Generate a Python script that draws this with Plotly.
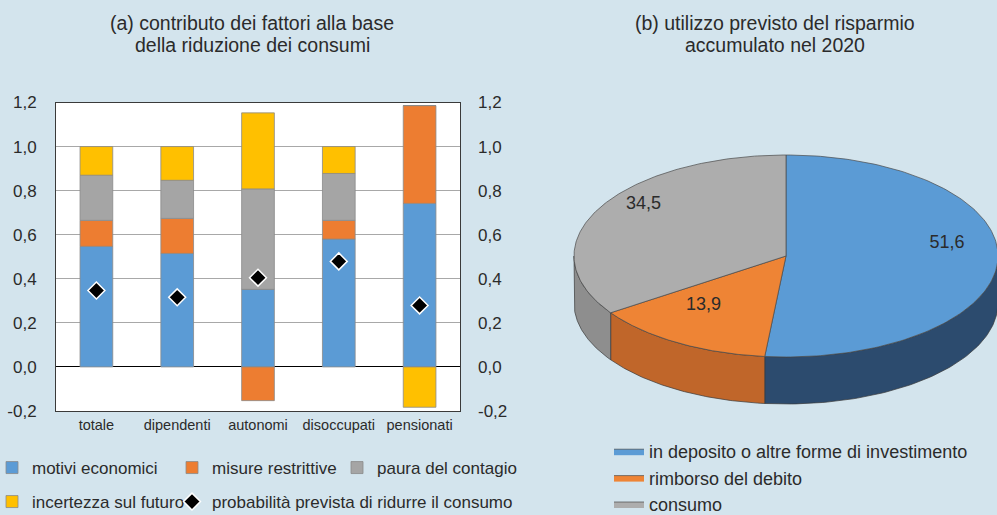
import numpy as np
import plotly.graph_objects as go

# ---------------- data ----------------
categories = ["totale", "dipendenti", "autonomi", "disoccupati", "pensionati"]
motivi_economici = [0.547, 0.515, 0.352, 0.580, 0.742]
misure_restrittive = [0.118, 0.159, -0.153, 0.085, 0.444]
paura_contagio = [0.205, 0.173, 0.456, 0.213, 0.0]
incertezza_futuro = [0.130, 0.153, 0.345, 0.122, -0.183]
prob_ridurre = [0.347, 0.316, 0.405, 0.479, 0.279]

pie_labels = ["in deposito o altre forme di investimento", "rimborso del debito", "consumo"]
pie_values = [51.6, 13.9, 34.5]

y_ticks = [-0.2, 0.0, 0.2, 0.4, 0.6, 0.8, 1.0, 1.2]
y_ticktext = [f"{v:.1f}".replace(".", ",") for v in y_ticks]

# ---------------- style ----------------
W, H = 997, 515
BG = "#d3e4ed"
FONT = "Liberation Sans, Arial, sans-serif"
TXT = "#2b2b2b"
C_BLUE, C_ORANGE, C_GRAY, C_YELLOW = "#5b9bd5", "#ed7d31", "#a5a5a5", "#ffc000"
PIE_TOP = ["#5b9bd5", "#ee8435", "#adadad"]
PIE_SIDE = ["#2c4b6e", "#c0662a", "#8e8e8e"]


def px_x(p):
    return p / W


def px_y(p):
    return (H - p) / H


fig = go.Figure()

# ---------------- (a) stacked bars ----------------
# each legend entry gets its own legend box so the entries sit on two rows
bar_series = [
    ("motivi economici", motivi_economici, C_BLUE, "legend"),
    ("misure restrittive", misure_restrittive, C_ORANGE, "legend5"),
    ("paura del contagio", paura_contagio, C_GRAY, "legend6"),
    ("incertezza sul futuro", incertezza_futuro, C_YELLOW, "legend2"),
]
for name, vals, col, lg in bar_series:
    fig.add_trace(go.Bar(
        x=categories, y=vals, name=name, marker_color=col,
        marker_line=dict(color="#8a8a8a", width=0.8),
        xaxis="x", yaxis="y", legend=lg,
    ))

fig.add_trace(go.Scatter(
    x=categories, y=prob_ridurre, mode="markers",
    name="probabilità prevista di ridurre il consumo",
    marker=dict(symbol="diamond", size=13, color="black",
                line=dict(color="white", width=1.5)),
    xaxis="x", yaxis="y", legend="legend4",
))

# invisible trace to carry the right-hand axis
fig.add_trace(go.Scatter(x=categories, y=prob_ridurre, mode="markers",
                         marker=dict(opacity=0), showlegend=False,
                         hoverinfo="skip", xaxis="x", yaxis="y2"))

# ---------------- (b) 3-D style pie ----------------
cx, cy, rx, ry, depth = 786.0, 256.0, 212.0, 101.0, 47.0

fracs = np.array(pie_values) / np.sum(pie_values)
bounds = np.concatenate([[0.0], np.cumsum(fracs) * 360.0])


def rim(theta_deg, dy=0.0):
    t = np.radians(theta_deg)
    return cx + rx * np.sin(t), cy - ry * np.cos(t) + dy


# side walls (front half only, 90..270 degrees clockwise from top)
for i in range(len(pie_values)):
    a0, a1 = max(bounds[i], 90.0), min(bounds[i + 1], 270.0)
    if a1 <= a0:
        continue
    th = np.linspace(a0, a1, 80)
    xt, yt = rim(th)
    xb, yb = rim(th[::-1], depth)
    fig.add_trace(go.Scatter(
        x=np.concatenate([xt, xb, xt[:1]]), y=np.concatenate([yt, yb, yt[:1]]),
        mode="lines", fill="toself", fillcolor=PIE_SIDE[i],
        line=dict(color="#3a3a3a", width=0.7), showlegend=False,
        hoverinfo="skip", xaxis="x3", yaxis="y3",
    ))

# top face slices
for i, (lab, val) in enumerate(zip(pie_labels, pie_values)):
    th = np.linspace(bounds[i], bounds[i + 1], 160)
    xe, ye = rim(th)
    fig.add_trace(go.Scatter(
        x=np.concatenate([[cx], xe, [cx]]), y=np.concatenate([[cy], ye, [cy]]),
        mode="lines", fill="toself", fillcolor=PIE_TOP[i],
        line=dict(color="#4a4a4a", width=0.7), name=lab,
        legend="legend3", legendgroup=f"g{i}", xaxis="x3", yaxis="y3",
        hovertemplate=f"{lab}: {val:.1f}<extra></extra>".replace(".", ","),
    ))

# value labels at mid-angle of each slice
mids = (bounds[:-1] + bounds[1:]) / 2
lx, ly = rim(mids)
lx = cx + 0.76 * (lx - cx)
ly = cy + 0.76 * (ly - cy) - 16
fig.add_trace(go.Scatter(
    x=lx, y=ly, mode="text",
    text=[f"{v:.1f}".replace(".", ",") for v in pie_values],
    textfont=dict(size=18, color=TXT, family=FONT),
    showlegend=False, hoverinfo="skip", xaxis="x3", yaxis="y3",
))

# ---------------- layout ----------------
plot_x0, plot_x1 = 56, 460
plot_top, plot_bot = 102.5, 411

axis_common = dict(
    range=[-0.2, 1.2], tickvals=y_ticks, ticktext=y_ticktext,
    tickfont=dict(size=17, color=TXT, family=FONT),
    domain=[px_y(plot_bot), px_y(plot_top)], fixedrange=True,
)

legend_font = dict(size=17, color=TXT, family=FONT)

title_a = ["(a) contributo dei fattori alla base", "della riduzione dei consumi"]
title_b = ["(b) utilizzo previsto del risparmio", "accumulato nel 2020"]
annotations = []
for lines, xc in ((title_a, 252), (title_b, 775)):
    for line, yc in zip(lines, (23, 45)):
        annotations.append(dict(
            text=line, x=px_x(xc), y=px_y(yc), xref="paper", yref="paper",
            showarrow=False, font=dict(size=19.5, color=TXT, family=FONT),
            xanchor="center", yanchor="middle"))


def row_legend(x_px, y_px):
    return dict(orientation="h", x=px_x(x_px), y=px_y(y_px),
                xanchor="left", yanchor="middle", font=legend_font,
                bgcolor="rgba(0,0,0,0)", itemwidth=30, traceorder="normal")


fig.update_layout(
    width=W, height=H,
    margin=dict(l=0, r=0, t=0, b=0, autoexpand=False),
    paper_bgcolor=BG, plot_bgcolor="rgba(0,0,0,0)",
    separators=",.",
    barmode="relative", bargap=0.595,
    font=dict(family=FONT, color=TXT),
    xaxis=dict(
        domain=[px_x(plot_x0), px_x(plot_x1)], anchor="y",
        showline=True, linecolor="#3a3a3a", linewidth=1, mirror=True,
        tickfont=dict(size=14.5, color=TXT, family=FONT), ticks="",
        ticklabelstandoff=1, fixedrange=True,
    ),
    yaxis=dict(
        **axis_common, anchor="x", side="left",
        showgrid=True, gridcolor="#a8a8a8", gridwidth=1,
        zeroline=True, zerolinecolor="#000000", zerolinewidth=1.3,
        showline=True, linecolor="#3a3a3a", linewidth=1, mirror=True,
        ticks="", ticklabelstandoff=15,
    ),
    yaxis2=dict(
        **axis_common, anchor="x", overlaying="y", side="right",
        showgrid=False, zeroline=False, showline=False,
        ticks="", ticklabelstandoff=17,
    ),
    xaxis3=dict(domain=[px_x(560), 1.0], range=[560, W], anchor="y3",
                visible=False, fixedrange=True),
    yaxis3=dict(domain=[0.0, 1.0], range=[H, 0], anchor="x3",
                visible=False, fixedrange=True),
    legend=row_legend(-8, 468),
    legend5=row_legend(172, 468),
    legend6=row_legend(337, 468),
    legend2=row_legend(-8, 502),
    legend4=row_legend(172, 502),
    legend3=dict(
        orientation="v", x=px_x(609), y=px_y(433), xanchor="left", yanchor="top",
        font=dict(size=18, color=TXT, family=FONT), bgcolor="rgba(0,0,0,0)",
        itemwidth=30, tracegroupgap=4, traceorder="normal",
    ),
    shapes=[dict(type="rect", xref="x domain", yref="y domain",
                 x0=0, x1=1, y0=0, y1=1, fillcolor="white",
                 line=dict(width=0), layer="below")],
    annotations=annotations,
)

fig.write_html("out.html")
